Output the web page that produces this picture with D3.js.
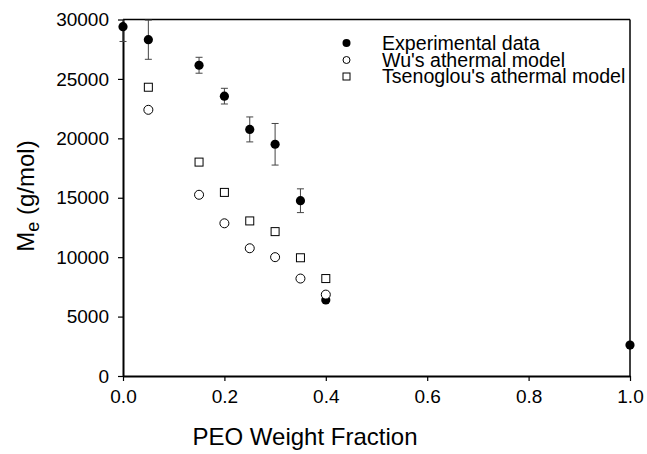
<!DOCTYPE html>
<html>
<head>
<meta charset="utf-8">
<script src="https://cdn.jsdelivr.net/npm/d3@7"></script>
<style>
  body { margin: 0; background: #fff; }
  text { font-family: "Liberation Sans", Arial, sans-serif; fill: #000; }
</style>
</head>
<body>
<svg id="chart" width="647" height="454"></svg>
<script>
// data
var fraction = [0, 0.05, 0.15, 0.2, 0.25, 0.3, 0.35, 0.4, 1.0];
var expMe = [29400, 28300, 26150, 23550, 20750, 19500, 14750, 6400, 2600];
var expErr = [1250, 1650, 670, 660, 1050, 1750, 1000, 0, 0];
var modelFraction = [0.05, 0.15, 0.2, 0.25, 0.3, 0.35, 0.4];
var wuMe = [22400, 15250, 12850, 10750, 10000, 8200, 6850];
var tsenMe = [24300, 18000, 15450, 13050, 12150, 9950, 8200];
var xTicks = [0, 0.2, 0.4, 0.6, 0.8, 1.0];
var yTicks = [0, 5000, 10000, 15000, 20000, 25000, 30000];
var legendNames = ["Experimental data", "Wu's athermal model", "Tsenoglou's athermal model"];

(function () {
	var pLeft = 123, pRight = 630, pTop = 19.5, pBottom = 376;
	var svg = d3.select("#chart");

	var x = d3.scaleLinear().domain([0, 1]).range([pLeft, pRight]);
	var y = d3.scaleLinear().domain([0, 30000]).range([pBottom, pTop]);

	// frame (top + right)
	svg.append("line")
		.attr("x1", pLeft).attr("x2", pRight).attr("y1", pTop).attr("y2", pTop)
		.style("stroke", "#000").style("stroke-width", 1.5);
	svg.append("line")
		.attr("x1", pRight).attr("x2", pRight).attr("y1", pTop).attr("y2", pBottom)
		.style("stroke", "#000").style("stroke-width", 1.5);

	var xAxis = svg.append("g")
		.attr("transform", "translate(0," + pBottom + ")")
		.call(d3.axisBottom(x).tickValues(xTicks).tickFormat(d3.format(".1f")).tickSize(5).tickSizeOuter(0).tickPadding(9));
	var yAxis = svg.append("g")
		.attr("transform", "translate(" + pLeft + ",0)")
		.call(d3.axisLeft(y).tickValues(yTicks).tickFormat(d3.format("d")).tickSize(5).tickSizeOuter(0).tickPadding(9));

	[xAxis, yAxis].forEach(function (g) {
		g.select(".domain").style("stroke", "#000").style("stroke-width", 2);
		g.selectAll(".tick line").style("stroke", "#000").style("stroke-width", 1.2);
		g.selectAll(".tick text")
			.style("font-family", "'Liberation Sans', Arial, sans-serif")
			.style("font-size", "19px").style("fill", "#000");
	});

	// axis titles
	svg.append("text")
		.attr("x", 305).attr("y", 445)
		.attr("text-anchor", "middle")
		.style("font-size", "24px")
		.text("PEO Weight Fraction");

	var yt = svg.append("text")
		.attr("transform", "translate(34,196) rotate(-90)")
		.attr("text-anchor", "middle")
		.style("font-size", "24px");
	yt.append("tspan").text("M");
	yt.append("tspan").attr("dy", 5).style("font-size", "18px").text("e");
	yt.append("tspan").attr("dy", -5).text(" (g/mol)");

	// error bars
	var expData = fraction.map(function (f, i) { return { f: f, me: expMe[i], err: expErr[i] }; });
	var eb = svg.append("g").style("stroke", "#444").style("stroke-width", 1);
	expData.filter(function (d) { return d.err > 0; }).forEach(function (d) {
		var cx = x(d.f);
		var hi = Math.min(d.me + d.err, 30000);
		eb.append("line").attr("x1", cx).attr("x2", cx).attr("y1", y(d.me - d.err)).attr("y2", y(hi));
		eb.append("line").attr("x1", cx - 3.5).attr("x2", cx + 3.5).attr("y1", y(d.me - d.err)).attr("y2", y(d.me - d.err));
		if (d.me + d.err <= 30000) {
			eb.append("line").attr("x1", cx - 3.5).attr("x2", cx + 3.5).attr("y1", y(hi)).attr("y2", y(hi));
		}
	});

	// Tsenoglou squares
	svg.append("g").selectAll("rect")
		.data(modelFraction.map(function (f, i) { return [f, tsenMe[i]]; }))
		.enter().append("rect")
		.attr("x", function (d) { return x(d[0]) - 4; })
		.attr("y", function (d) { return y(d[1]) - 4; })
		.attr("width", 8).attr("height", 8)
		.style("fill", "#fff").style("stroke", "#000").style("stroke-width", 1);

	// experimental filled circles
	svg.append("g").selectAll("circle")
		.data(expData)
		.enter().append("circle")
		.attr("cx", function (d) { return x(d.f); })
		.attr("cy", function (d) { return y(d.me); })
		.attr("r", 4.6)
		.style("fill", "#000");

	// Wu open circles
	svg.append("g").selectAll("circle")
		.data(modelFraction.map(function (f, i) { return [f, wuMe[i]]; }))
		.enter().append("circle")
		.attr("cx", function (d) { return x(d[0]); })
		.attr("cy", function (d) { return y(d[1]); })
		.attr("r", 4.5)
		.style("fill", "#fff").style("stroke", "#000").style("stroke-width", 1);

	// legend
	var lg = svg.append("g");
	var rows = [43, 60, 76.5];
	legendNames.forEach(function (name, i) {
		var cy = rows[i], cx = 346.5;
		if (i === 0) lg.append("circle").attr("cx", cx).attr("cy", cy).attr("r", 4).style("fill", "#000");
		if (i === 1) lg.append("circle").attr("cx", cx).attr("cy", cy).attr("r", 3.5).style("fill", "#fff").style("stroke", "#000");
		if (i === 2) lg.append("rect").attr("x", cx - 3.5).attr("y", cy - 3.5).attr("width", 7).attr("height", 7).style("fill", "#fff").style("stroke", "#000");
		lg.append("text").attr("x", 382).attr("y", cy + 6.5)
			.style("font-size", "19.6px")
			.text(name);
	});
})();
</script>
</body>
</html>
